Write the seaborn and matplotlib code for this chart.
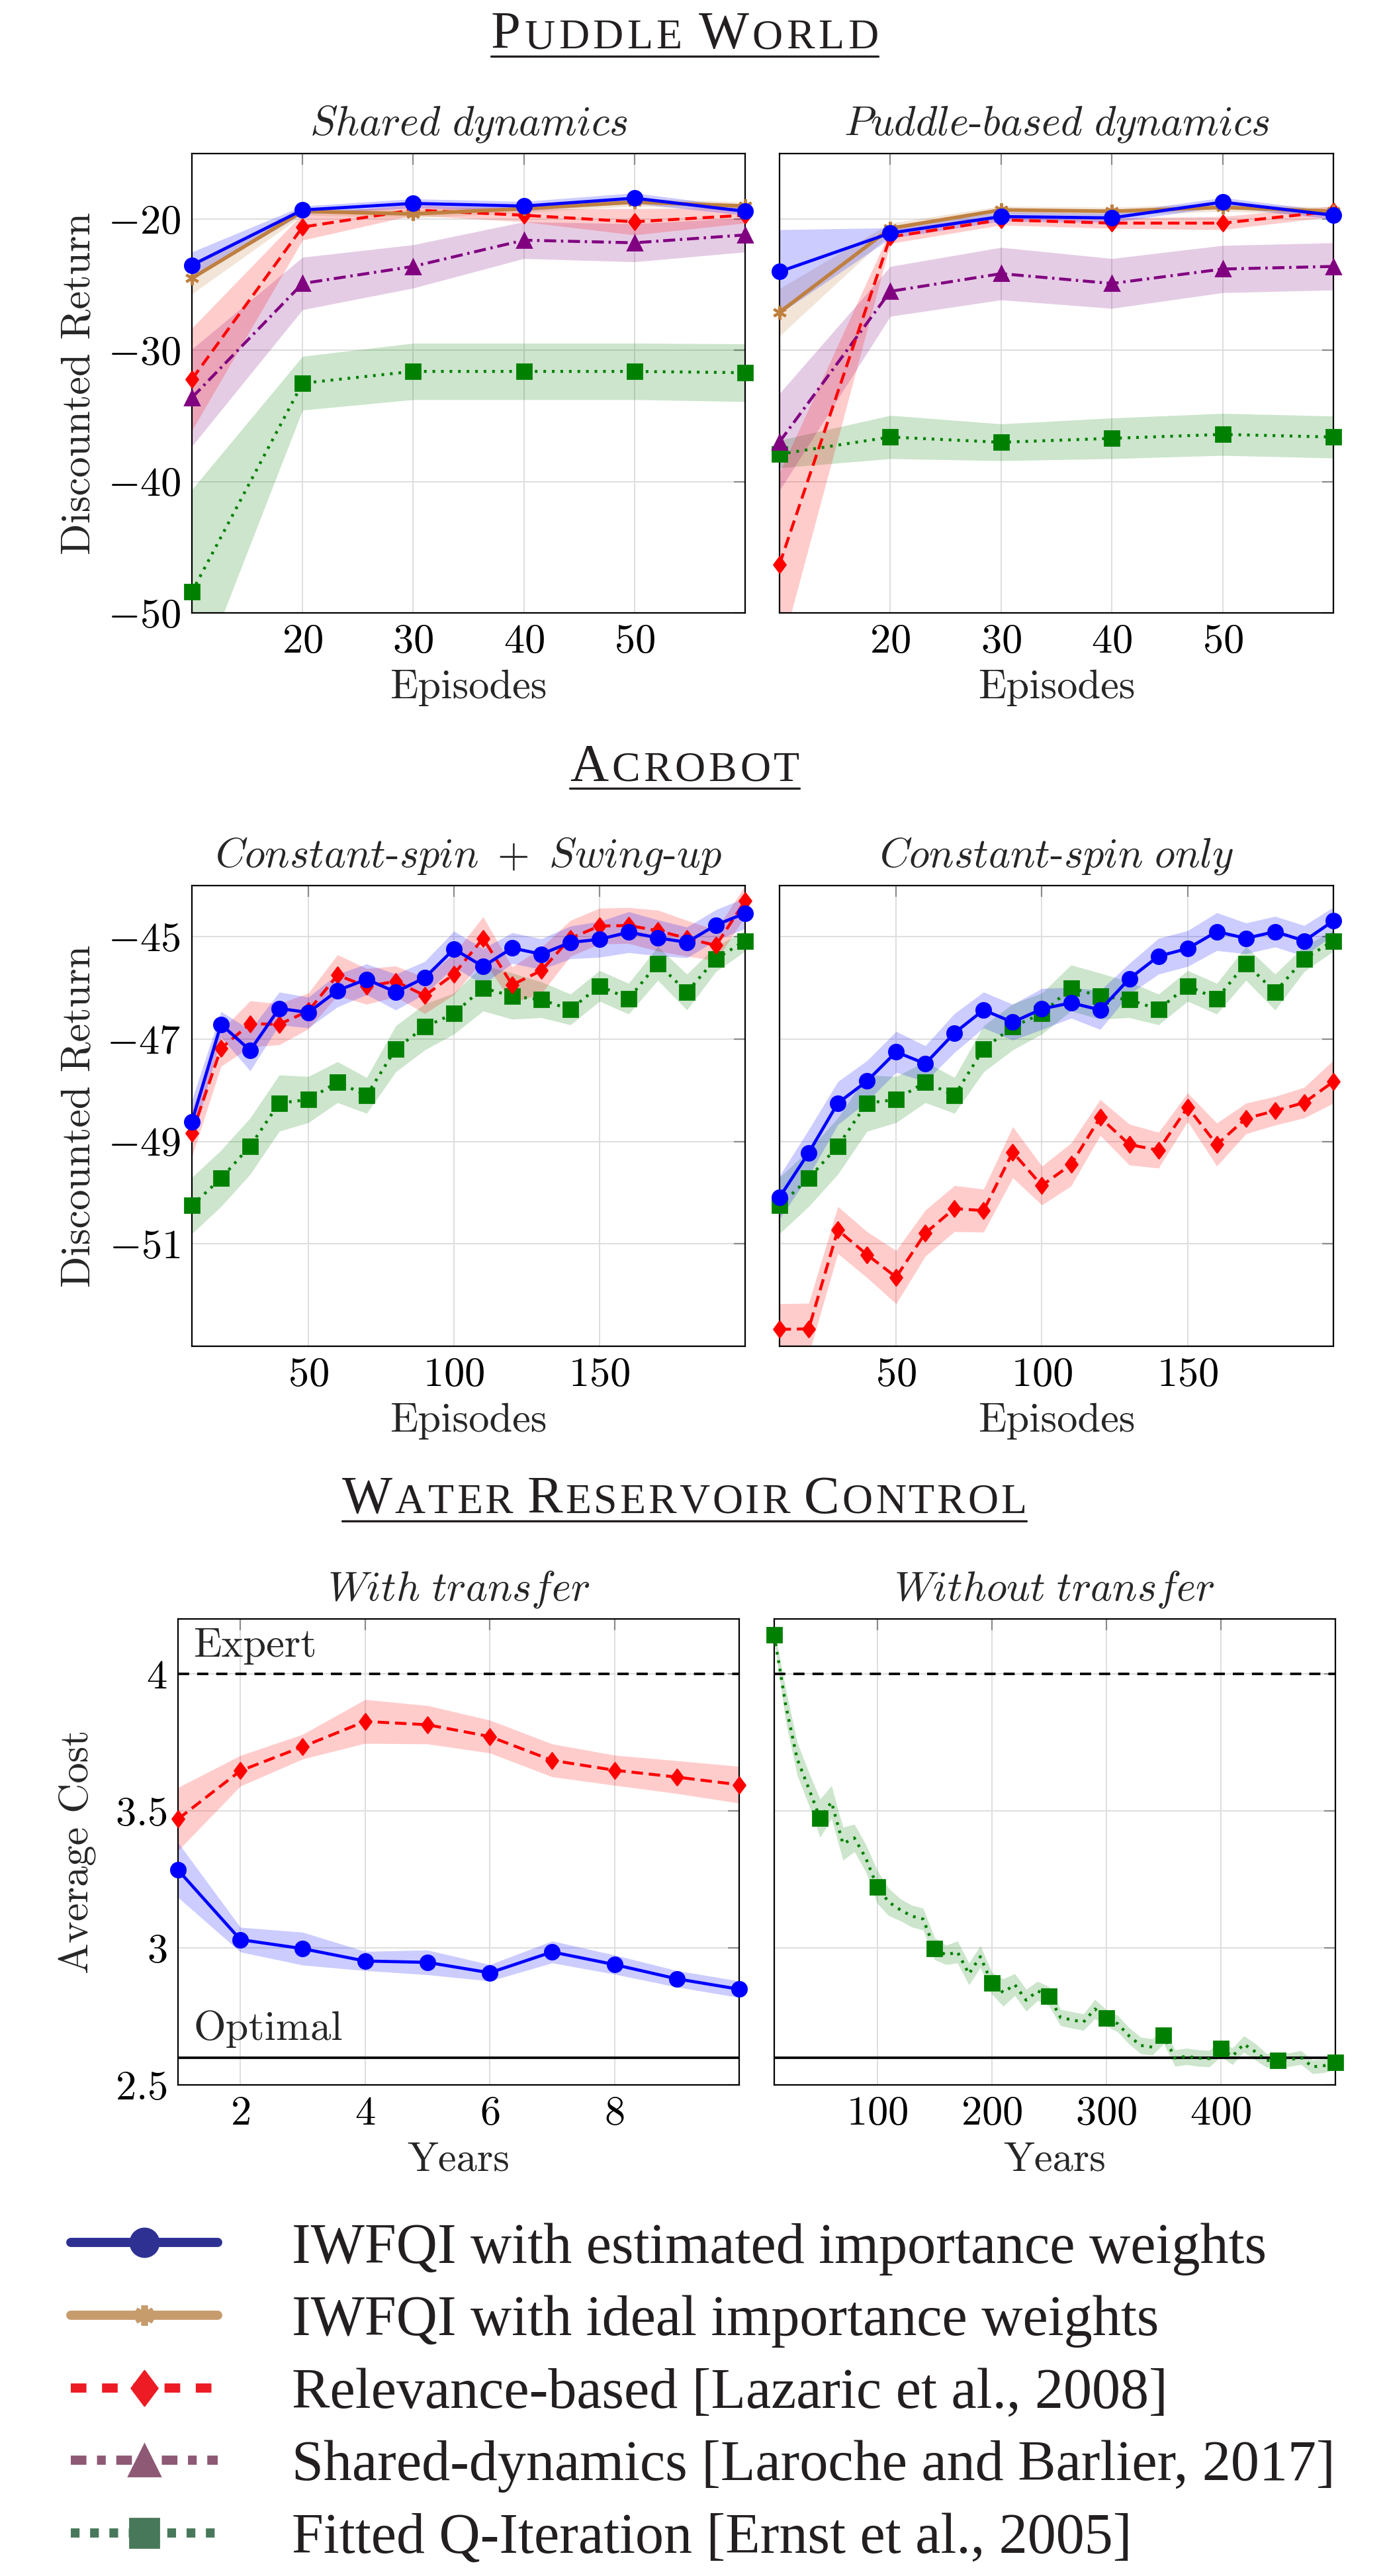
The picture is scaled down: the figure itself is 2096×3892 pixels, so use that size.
import matplotlib
matplotlib.use("Agg")
import matplotlib.pyplot as plt
import seaborn as sns
from matplotlib.lines import Line2D
from matplotlib.path import Path
from matplotlib.ticker import FuncFormatter

# ---------------- data ----------------
puddle_x = [10, 20, 30, 40, 50, 60]

# Puddle world, shared dynamics
pw_shared_est = [-23.5, -19.3, -18.8, -19.0, -18.4, -19.4]
pw_shared_est_err = [1.0, 0.3, 0.35, 0.35, 0.4, 0.3]
pw_shared_ideal = [-24.5, -19.4, -19.6, -19.2, -18.7, -19.0]
pw_shared_ideal_err = [1.2, 0.3, 0.3, 0.3, 0.3, 0.3]
pw_shared_rel = [-32.2, -20.6, -19.3, -19.7, -20.2, -19.7]
pw_shared_rel_err = [3.9, 1.0, 0.4, 0.5, 1.0, 0.6]
pw_shared_sd = [-33.6, -24.9, -23.6, -21.6, -21.8, -21.2]
pw_shared_sd_err = [3.7, 2.0, 1.65, 1.4, 1.45, 1.3]
pw_shared_fqi = [-48.4, -32.5, -31.6, -31.6, -31.6, -31.7]
pw_shared_fqi_err = [7.8, 2.05, 2.15, 2.15, 2.15, 2.2]

# Puddle world, puddle-based dynamics
pw_puddle_est = [-24.0, -21.06, -19.8, -19.9, -18.7, -19.7]
pw_puddle_est_err = [3.2, 0.4, 0.35, 0.35, 0.35, 0.3]
pw_puddle_ideal = [-27.1, -20.7, -19.3, -19.4, -19.1, -19.4]
pw_puddle_ideal_err = [1.8, 0.4, 0.3, 0.3, 0.3, 0.3]
pw_puddle_rel = [-46.3, -21.35, -20.05, -20.3, -20.3, -19.4]
pw_puddle_rel_err = [7.0, 0.5, 0.4, 0.4, 0.5, 0.4]
pw_puddle_sd = [-36.97, -25.5, -24.15, -24.9, -23.8, -23.6]
pw_puddle_sd_err = [3.7, 1.9, 2.0, 1.9, 1.8, 1.8]
pw_puddle_fqi = [-37.9, -36.6, -37.0, -36.7, -36.4, -36.6]
pw_puddle_fqi_err = [1.05, 1.65, 1.4, 1.55, 1.6, 1.6]

acro_x = [10, 20, 30, 40, 50, 60, 70, 80, 90, 100,
          110, 120, 130, 140, 150, 160, 170, 180, 190, 200]

# Acrobot, constant-spin + swing-up
ac_both_est = [-48.61, -46.71, -47.22, -46.40, -46.48, -46.05, -45.83, -46.08, -45.80, -45.24,
               -45.58, -45.22, -45.34, -45.11, -45.05, -44.91, -45.02, -45.11, -44.77, -44.54]
ac_both_est_err = [0.42, 0.25, 0.4, 0.32, 0.3, 0.32, 0.3, 0.35, 0.32, 0.35,
                   0.35, 0.3, 0.3, 0.32, 0.35, 0.4, 0.35, 0.3, 0.3, 0.3]
ac_both_rel = [-48.84, -47.18, -46.70, -46.71, -46.45, -45.75, -45.97, -45.87, -46.15, -45.73,
               -45.03, -45.94, -45.66, -45.03, -44.79, -44.78, -44.88, -45.03, -45.17, -44.30]
ac_both_rel_err = [0.45, 0.35, 0.45, 0.4, 0.35, 0.4, 0.35, 0.3, 0.35, 0.4,
                   0.42, 0.35, 0.45, 0.35, 0.35, 0.35, 0.4, 0.35, 0.3, 0.3]
ac_fqi = [-50.25, -49.72, -49.09, -48.25, -48.18, -47.84, -48.10, -47.19, -46.76, -46.50,
          -46.00, -46.16, -46.23, -46.42, -45.96, -46.21, -45.52, -46.08, -45.43, -45.08]
ac_fqi_err = [0.55, 0.55, 0.55, 0.55, 0.45, 0.4, 0.35, 0.45, 0.45, 0.4,
              0.45, 0.45, 0.35, 0.3, 0.3, 0.3, 0.33, 0.35, 0.25, 0.2]

# Acrobot, constant-spin only
ac_spin_est = [-50.09, -49.22, -48.25, -47.82, -47.25, -47.48, -46.88, -46.43, -46.67, -46.41,
               -46.29, -46.43, -45.82, -45.38, -45.23, -44.90, -45.03, -44.90, -45.08, -44.69]
ac_spin_est_err = [0.42, 0.45, 0.42, 0.4, 0.4, 0.35, 0.38, 0.35, 0.35, 0.4,
                   0.3, 0.38, 0.3, 0.35, 0.35, 0.37, 0.3, 0.3, 0.3, 0.27]
ac_spin_rel = [-52.67, -52.66, -50.73, -51.21, -51.65, -50.79, -50.31, -50.35, -49.21, -49.86,
               -49.45, -48.53, -49.06, -49.17, -48.33, -49.06, -48.55, -48.40, -48.24, -47.83]
ac_spin_rel_err = [0.5, 0.5, 0.46, 0.45, 0.52, 0.45, 0.45, 0.42, 0.5, 0.38,
                   0.42, 0.35, 0.4, 0.35, 0.28, 0.42, 0.3, 0.28, 0.3, 0.42]

# Water reservoir, with transfer
wr_years = [1, 2, 3, 4, 5, 6, 7, 8, 9, 10]
wr_rel = [3.47, 3.646, 3.734, 3.826, 3.814, 3.771, 3.684, 3.648, 3.623, 3.595]
wr_rel_err = [0.115, 0.056, 0.045, 0.08, 0.07, 0.06, 0.06, 0.055, 0.06, 0.067]
wr_est = [3.284, 3.03, 2.997, 2.952, 2.947, 2.909, 2.985, 2.939, 2.887, 2.849]
wr_est_err = [0.1, 0.045, 0.06, 0.035, 0.045, 0.03, 0.04, 0.035, 0.03, 0.03]

# Water reservoir, without transfer (FQI)
wr_long_x = [10, 20, 30, 40, 50, 60, 70, 80, 90, 100,
             110, 120, 130, 140, 150, 160, 170, 180, 190, 200,
             210, 220, 230, 240, 250, 260, 270, 280, 290, 300,
             310, 320, 330, 340, 350, 360, 370, 380, 390, 400,
             410, 420, 430, 440, 450, 460, 470, 480, 490, 500]
wr_fqi = [4.141, 3.886, 3.69, 3.583, 3.473, 3.532, 3.38, 3.401, 3.327, 3.222,
          3.167, 3.139, 3.116, 3.105, 2.997, 2.974, 2.985, 2.905, 2.968, 2.871,
          2.837, 2.866, 2.809, 2.843, 2.823, 2.746, 2.737, 2.729, 2.777, 2.744,
          2.723, 2.678, 2.644, 2.638, 2.680, 2.598, 2.604, 2.598, 2.596, 2.634,
          2.604, 2.649, 2.621, 2.589, 2.590, 2.592, 2.600, 2.566, 2.570, 2.581]
wr_fqi_err = [0.02, 0.06, 0.06, 0.06, 0.07, 0.06, 0.06, 0.05, 0.05, 0.06,
              0.05, 0.04, 0.04, 0.04, 0.04, 0.035, 0.04, 0.04, 0.04, 0.04,
              0.05, 0.04, 0.04, 0.035, 0.035, 0.03, 0.03, 0.03, 0.035, 0.03,
              0.03, 0.03, 0.03, 0.03, 0.03, 0.03, 0.03, 0.03, 0.03, 0.03,
              0.03, 0.03, 0.03, 0.025, 0.025, 0.025, 0.025, 0.025, 0.025, 0.025]
wr_fqi_marks = [0, 4, 9, 14, 19, 24, 29, 34, 39, 44, 49]
expert_cost = 4.0
optimal_cost = 2.6

legend_labels = [
    "IWFQI with estimated importance weights",
    "IWFQI with ideal importance weights",
    "Relevance-based [Lazaric et al., 2008]",
    "Shared-dynamics [Laroche and Barlier, 2017]",
    "Fitted Q-Iteration [Ernst et al., 2005]",
]

# ---------------- style ----------------
W, H, DPI = 2096, 3892, 200
FS = 22.5
TXT = "#231f20"

sns.set_style("white")
plt.rcParams["font.family"] = ["cmr10"]
plt.rcParams["mathtext.fontset"] = "cm"
plt.rcParams["axes.unicode_minus"] = False

DIAMOND = Path([(0, 1), (0.75, 0), (0, -1), (-0.75, 0), (0, 1)],
               [Path.MOVETO, Path.LINETO, Path.LINETO, Path.LINETO, Path.CLOSEPOLY])

STYLES = {
    "est": dict(color="#0000ff", linestyle="-", lw=1.7, marker="o", ms=8, z=7),
    "ideal": dict(color="#bf8040", linestyle="-", lw=2.0, marker=(6, 2, 0), ms=7.5, z=6),
    "rel": dict(color="#ff0000", linestyle=(0, (3.9, 2.0)), lw=1.6, marker=DIAMOND, ms=8.6, z=5),
    "sd": dict(color="#800080", linestyle=(0, (4.1, 1.6, 0.8, 1.6)), lw=1.6, marker="^", ms=8, z=4),
    "fqi": dict(color="#008000", linestyle=(0, (0.9, 2.0)), lw=1.6, marker="s", ms=7.8, z=3),
}

fmt = FuncFormatter(lambda v, p: f"${v:g}$")

fig = plt.figure(figsize=(W / DPI, H / DPI), dpi=DPI)


def box(x0, y0, x1, y1):
    return [x0 / W, 1 - y1 / H, (x1 - x0) / W, (y1 - y0) / H]


def series(ax, x, y, err, key, markevery=None):
    st = STYLES[key]
    lo = [a - b for a, b in zip(y, err)]
    hi = [a + b for a, b in zip(y, err)]
    ax.fill_between(x, lo, hi, color=st["color"], alpha=0.2, lw=0, zorder=1)
    sns.lineplot(x=x, y=y, ax=ax, color=st["color"], linestyle=st["linestyle"],
                 linewidth=st["lw"], marker=st["marker"], markersize=st["ms"],
                 markeredgecolor=st["color"], markeredgewidth=1.0 if key != "ideal" else 1.5,
                 markevery=markevery, errorbar=None, legend=False, clip_on=False,
                 zorder=st["z"])


def style_axes(ax, xlim, ylim, xticks, yticks, left_labels, title):
    ax.set_xlim(xlim)
    ax.set_ylim(ylim)
    ax.set_xticks(xticks)
    ax.set_yticks(yticks)
    ax.xaxis.set_major_formatter(fmt)
    ax.yaxis.set_major_formatter(fmt)
    ax.tick_params(direction="in", length=6, width=0.8, color="#8c8c8c",
                   top=True, right=True, labelsize=FS, pad=6,
                   labelleft=left_labels, labelcolor="black")
    ax.grid(True, color="#dedede", lw=0.7)
    ax.set_axisbelow(True)
    for s in ax.spines.values():
        s.set_color("black")
        s.set_linewidth(0.8)
    ax.set_title(title, fontsize=FS, pad=10.4)
    ax.set_xlabel("")
    ax.set_ylabel("")


def labels(ax, xlabel, ylabel, ylab_x, axes_h):
    ax.set_xlabel(xlabel, fontsize=FS)
    ax.xaxis.set_label_coords(0.5, -86 / axes_h)
    if ylabel:
        ax.set_ylabel(ylabel, fontsize=FS)
        ax.yaxis.set_label_coords(ylab_x, 0.5)


# ---------- Puddle world ----------
ax = fig.add_axes(box(290, 232, 1126, 926))
series(ax, puddle_x, pw_shared_fqi, pw_shared_fqi_err, "fqi")
series(ax, puddle_x, pw_shared_sd, pw_shared_sd_err, "sd")
series(ax, puddle_x, pw_shared_rel, pw_shared_rel_err, "rel")
series(ax, puddle_x, pw_shared_ideal, pw_shared_ideal_err, "ideal")
series(ax, puddle_x, pw_shared_est, pw_shared_est_err, "est")
style_axes(ax, (10, 60), (-50, -15), [20, 30, 40, 50], [-50, -40, -30, -20], True,
           r"$Shared\ dynamics$")
labels(ax, "Episodes", "Discounted Return", -0.169, 694)

ax = fig.add_axes(box(1178, 232, 2015, 926))
series(ax, puddle_x, pw_puddle_fqi, pw_puddle_fqi_err, "fqi")
series(ax, puddle_x, pw_puddle_sd, pw_puddle_sd_err, "sd")
series(ax, puddle_x, pw_puddle_rel, pw_puddle_rel_err, "rel")
series(ax, puddle_x, pw_puddle_ideal, pw_puddle_ideal_err, "ideal")
series(ax, puddle_x, pw_puddle_est, pw_puddle_est_err, "est")
style_axes(ax, (10, 60), (-50, -15), [20, 30, 40, 50], [-50, -40, -30, -20], False,
           r"$Puddle$-$based\ dynamics$")
labels(ax, "Episodes", None, 0, 694)

# ---------- Acrobot ----------
ax = fig.add_axes(box(290, 1338, 1126, 2034))
series(ax, acro_x, ac_fqi, ac_fqi_err, "fqi")
series(ax, acro_x, ac_both_rel, ac_both_rel_err, "rel")
series(ax, acro_x, ac_both_est, ac_both_est_err, "est")
style_axes(ax, (10, 200), (-53, -44), [50, 100, 150], [-51, -49, -47, -45], True,
           r"$Constant$-$spin\ +\ Swing$-$up$")
labels(ax, "Episodes", "Discounted Return", -0.169, 696)

ax = fig.add_axes(box(1178, 1338, 2015, 2034))
series(ax, acro_x, ac_fqi, ac_fqi_err, "fqi")
series(ax, acro_x, ac_spin_rel, ac_spin_rel_err, "rel")
series(ax, acro_x, ac_spin_est, ac_spin_est_err, "est")
style_axes(ax, (10, 200), (-53, -44), [50, 100, 150], [-51, -49, -47, -45], False,
           r"$Constant$-$spin\ only$")
labels(ax, "Episodes", None, 0, 696)

# ---------- Water reservoir ----------
ref_dash = (0, (4.5, 3.2))

ax = fig.add_axes(box(269, 2446, 1117, 3150))
series(ax, wr_years, wr_rel, wr_rel_err, "rel")
series(ax, wr_years, wr_est, wr_est_err, "est")
ax.axhline(expert_cost, color="black", lw=1.35, linestyle=ref_dash, zorder=2)
ax.axhline(optimal_cost, color="black", lw=1.35, zorder=2)
ax.annotate("Expert", xy=(0, expert_cost), xycoords=("axes fraction", "data"),
            xytext=(8.3, 9.4), textcoords="offset points", fontsize=FS,
            va="baseline", ha="left")
ax.annotate("Optimal", xy=(0, optimal_cost), xycoords=("axes fraction", "data"),
            xytext=(8.3, 9.6), textcoords="offset points", fontsize=FS,
            va="baseline", ha="left")
style_axes(ax, (1, 10), (2.5, 4.2), [2, 4, 6, 8], [2.5, 3, 3.5, 4], True,
           r"$With\ transfer$")
labels(ax, "Years", "Average Cost", -0.145, 704)

ax = fig.add_axes(box(1170, 2446, 2018, 3150))
series(ax, wr_long_x, wr_fqi, wr_fqi_err, "fqi", markevery=wr_fqi_marks)
ax.axhline(expert_cost, color="black", lw=1.35, linestyle=ref_dash, zorder=2)
ax.axhline(optimal_cost, color="black", lw=1.35, zorder=2)
style_axes(ax, (10, 500), (2.5, 4.2), [100, 200, 300, 400], [2.5, 3, 3.5, 4], False,
           r"$Without\ transfer$")
labels(ax, "Years", None, 0, 704)


# ---------- section titles (small caps, underlined) ----------
def smallcaps_title(text, xc, base_y, under_y, target_w, big=29, small=23):
    r = fig.canvas.get_renderer()
    pieces = []
    for i, word in enumerate(text.split()):
        if i:
            pieces.append((" ", None))
        pieces.append((word[0], big))
        for ch in word[1:]:
            pieces.append((ch.upper(), small))
    arts, widths = [], []
    for ch, size in pieces:
        if size is None:
            arts.append(None)
            widths.append(14)
            continue
        t = fig.text(0, 1 - base_y / H, ch, fontsize=size, family="Liberation Serif",
                     color=TXT, va="baseline", ha="left")
        arts.append(t)
        widths.append(t.get_window_extent(r).width)
    track = (target_w - sum(widths)) / (len(pieces) - 1)
    x = xc - target_w / 2
    for t, w in zip(arts, widths):
        if t is not None:
            t.set_x(x / W)
        x += w + track
    fig.add_artist(Line2D([(xc - target_w / 2) / W, (xc + target_w / 2) / W],
                          [1 - under_y / H] * 2, transform=fig.transFigure,
                          color=TXT, lw=1.2))


smallcaps_title("Puddle World", 1034.5, 73, 85, 585)
smallcaps_title("Acrobot", 1034.5, 1180, 1191, 347)
smallcaps_title("Water Reservoir Control", 1034, 2286, 2298, 1034)

# ---------- legend ----------
handles = [
    Line2D([], [], color="#2e3192", lw=5, marker="o", ms=15.5),
    Line2D([], [], color="#c69c6d", lw=5, marker=(6, 2, 0), ms=11, mew=3.5),
    Line2D([], [], color="#ed1c24", lw=5, linestyle=(0, (1.7, 1.7)), marker=DIAMOND, ms=19),
    Line2D([], [], color="#8e5975", lw=5, linestyle=(0, (1.7, 1.15, 0.95, 1.15)), marker="^", ms=17),
    Line2D([], [], color="#48785a", lw=5, linestyle=(0, (0.95, 1.15)), marker="s", ms=16),
]
fig.legend(handles, legend_labels, loc="upper left", bbox_to_anchor=(107 / W, 1 - 3358 / H),
           frameon=False, borderpad=0, borderaxespad=0, handlelength=2.58,
           handletextpad=1.3, labelspacing=0.35,
           prop={"family": "Liberation Serif", "size": 31}, labelcolor=TXT)

fig.savefig("out.png", dpi=DPI)
